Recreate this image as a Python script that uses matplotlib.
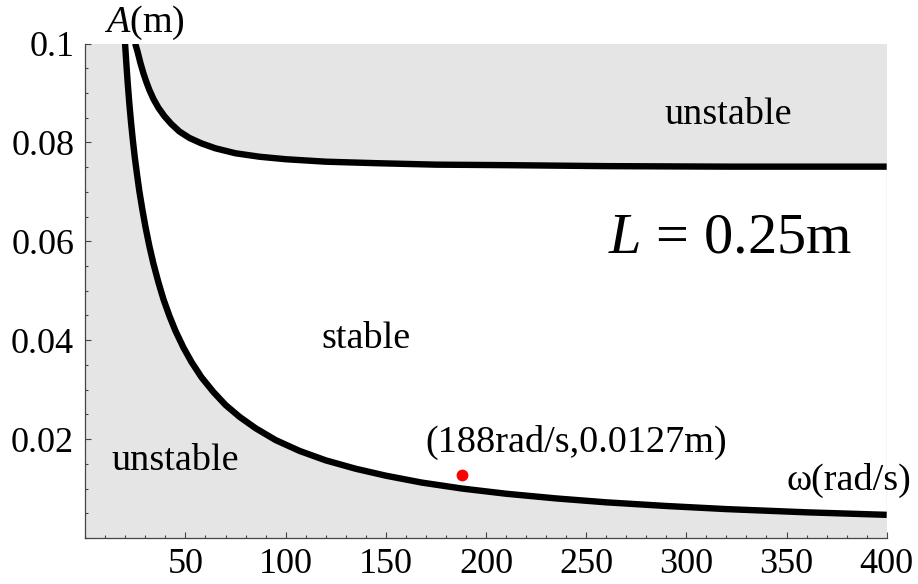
import matplotlib
matplotlib.use("Agg")
import matplotlib.pyplot as plt
from matplotlib.ticker import FixedLocator, MultipleLocator

# ---- data ----
omega_low = [19.85, 20.5, 21.2, 22, 22.8, 23.7, 24.7, 25.8, 27, 28.5, 30, 32, 34, 36.5,
             39, 42, 45, 49, 53, 58, 64, 70, 77, 85, 95, 107, 120, 135, 150, 168,
             188, 210, 235, 260, 290, 320, 360, 400]
A_low = [0.1000, 0.0959, 0.0919, 0.0878, 0.0842, 0.0806, 0.0770, 0.0736, 0.0701,
         0.0664, 0.0630, 0.0590, 0.0555, 0.0517, 0.0483, 0.0449, 0.0419, 0.0385,
         0.0356, 0.0325, 0.0295, 0.0269, 0.0245, 0.0222, 0.0198, 0.0176, 0.0157,
         0.0140, 0.0126, 0.0112, 0.0100, 0.00895, 0.0080, 0.00721, 0.00647,
         0.00584, 0.00519, 0.00468]

omega_up = [24.9, 26, 27.5, 29, 30.5, 32, 34, 36.5, 39.5, 43, 47, 52, 58, 65, 75, 87,
            100, 120, 145, 175, 210, 260, 320, 400]
A_up = [0.1000, 0.0985, 0.0961, 0.0940, 0.0922, 0.0906, 0.0888, 0.0870, 0.0853,
        0.0837, 0.0822, 0.0809, 0.0798, 0.0788, 0.0778, 0.0771, 0.0766, 0.0761,
        0.0758, 0.0755, 0.0754, 0.0752, 0.0751, 0.0751]

point_omega = [188]
point_A = [0.0127]

xticks = [50, 100, 150, 200, 250, 300, 350, 400]
xticklabels = ["50", "100", "150", "200", "250", "300", "350", "400"]
yticks = [0.02, 0.04, 0.06, 0.08, 0.1]
yticklabels = ["0.02", "0.04", "0.06", "0.08", "0.1"]

# ---- style ----
plt.rcParams["font.family"] = ["Liberation Serif", "DejaVu Serif"]
plt.rcParams["mathtext.fontset"] = "custom"
plt.rcParams["mathtext.rm"] = "Liberation Serif"
plt.rcParams["mathtext.it"] = "Liberation Serif:italic"

fig = plt.figure(figsize=(9.18, 5.84), dpi=100)
ax = fig.add_axes([0.0929, 0.0788, 0.9659 - 0.0929, 0.9255 - 0.0788])

gray = "#e5e5e5"
ax.set_facecolor(gray)

# white stable region between the two curves
poly_x = list(omega_low) + list(omega_up[::-1])
poly_y = list(A_low) + list(A_up[::-1])
ax.fill(poly_x, poly_y, color="white", lw=0, zorder=1)

ax.plot(omega_low, A_low, color="black", lw=4.6, zorder=3,
        solid_capstyle="butt", solid_joinstyle="round")
ax.plot(omega_up, A_up, color="black", lw=4.6, zorder=3,
        solid_capstyle="butt", solid_joinstyle="round")
ax.plot(point_omega, point_A, "o", color="#ff0000", ms=8.5, mec="none", zorder=4)

ax.set_xlim(0, 400)
ax.set_ylim(0, 0.1)

for s in ["top", "right"]:
    ax.spines[s].set_visible(False)
for s in ["left", "bottom"]:
    ax.spines[s].set_color("#444444")
    ax.spines[s].set_linewidth(0.9)
    ax.spines[s].set_zorder(5)

ax.xaxis.set_major_locator(FixedLocator(xticks))
ax.set_xticklabels(xticklabels)
ax.yaxis.set_major_locator(FixedLocator(yticks))
ax.set_yticklabels(yticklabels)
ax.xaxis.set_minor_locator(MultipleLocator(10))
ax.yaxis.set_minor_locator(MultipleLocator(0.005))
ax.tick_params(which="both", direction="in", color="#444444", width=0.8,
               labelsize=26, labelcolor="black")
ax.tick_params(which="major", length=4.0)
ax.tick_params(which="minor", length=2.4)
ax.tick_params(axis="x", which="major", pad=7)
ax.tick_params(axis="y", which="major", pad=8)

# texts
fs = 27.5
ax.text(29.5, 0.1024, r"$A$(m)", fontsize=fs, ha="center", va="baseline", clip_on=False)
ax.text(320.7, 0.0855, "unstable", fontsize=fs, ha="center", va="center")
ax.text(321.6, 0.0577, r"$L$ = 0.25m", fontsize=42, ha="center", va="baseline")
ax.text(140.2, 0.0384, "stable", fontsize=fs, ha="center", va="baseline")
ax.text(44.9, 0.01375, "unstable", fontsize=fs, ha="center", va="baseline")
ax.text(244.9, 0.01745, "(188rad/s,0.0127m)", fontsize=fs, ha="center", va="baseline")
ax.text(381, 0.0097, "ω(rad/s)", fontsize=fs, ha="center", va="baseline", clip_on=False)

fig.savefig("out.png", dpi=100)
